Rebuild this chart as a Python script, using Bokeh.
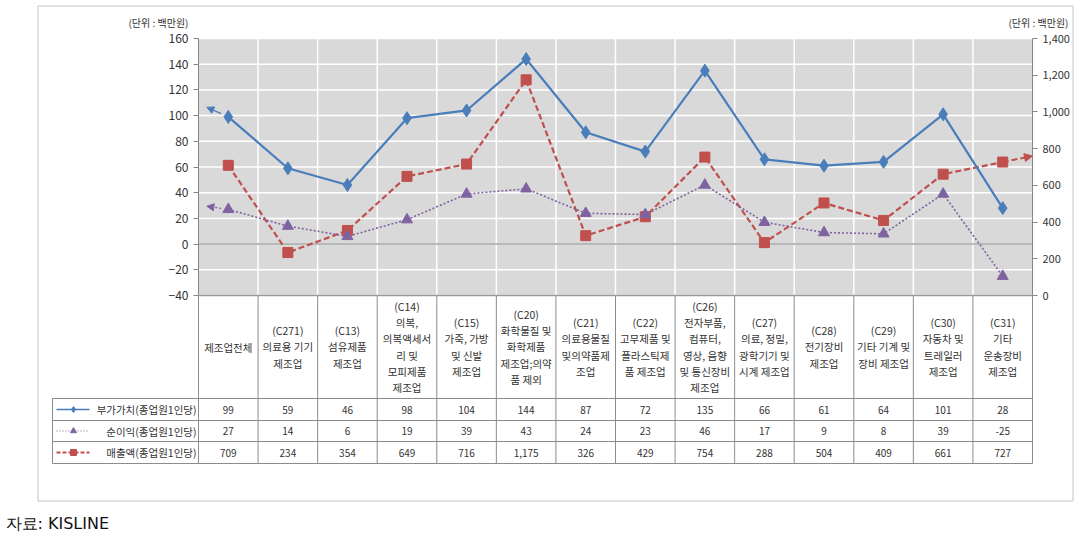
from bokeh.plotting import figure
from bokeh.models import (Range1d, LinearAxis, FixedTicker, Arrow, NormalHead,
                          NumeralTickFormatter)
from bokeh.embed import file_html
from bokeh.resources import INLINE
from bokeh.core.properties import value

# ---------------- data ----------------
categories = [
    "제조업전체",
    "(C271)\n의료용 기기\n제조업",
    "(C13)\n섬유제품\n제조업",
    "(C14)\n의복,\n의복액세서\n리 및\n모피제품\n제조업",
    "(C15)\n가죽, 가방\n및 신발\n제조업",
    "(C20)\n화학물질 및\n화학제품\n제조업;의약\n품 제외",
    "(C21)\n의료용물질\n및의약품제\n조업",
    "(C22)\n고무제품 및\n플라스틱제\n품 제조업",
    "(C26)\n전자부품,\n컴퓨터,\n영상, 음향\n및 통신장비\n제조업",
    "(C27)\n의료, 정밀,\n광학기기 및\n시계 제조업",
    "(C28)\n전기장비\n제조업",
    "(C29)\n기타 기계 및\n장비 제조업",
    "(C30)\n자동차 및\n트레일러\n제조업",
    "(C31)\n기타\n운송장비\n제조업",
]
value_added = [99, 59, 46, 98, 104, 144, 87, 72, 135, 66, 61, 64, 101, 28]
net_income = [27, 14, 6, 19, 39, 43, 24, 23, 46, 17, 9, 8, 39, -25]
sales = [709, 234, 354, 649, 716, 1175, 326, 429, 754, 288, 504, 409, 661, 727]
series_names = ["부가가치(종업원1인당)", "순이익(종업원1인당)", "매출액(종업원1인당)"]
left_ticks = [-40, -20, 0, 20, 40, 60, 80, 100, 120, 140, 160]
right_ticks = [0, 200, 400, 600, 800, 1000, 1200, 1400]
unit_label = "(단위 : 백만원)"
source_label = "자료:  KISLINE"
# values the drawn lines run on to, beyond the first / last category (arrow ends)
value_added_lead = 106.5
net_income_lead = 29.5
sales_trail = 760

# ---------------- layout constants (page pixels) ----------------
W, H = 1081, 545
FL, FR, FT, FB = 198, 1032, 38, 295          # plot area
n = len(categories)
unit = (FR - FL) / n                         # px per category
LMIN, LMAX = left_ticks[0], left_ticks[-1]
RMIN, RMAX = right_ticks[0], right_ticks[-1]
k = (FB - FT) / (LMAX - LMIN)                # px per left-axis unit
kr = (FB - FT) / (RMAX - RMIN)               # px per right-axis unit

FONT = "Noto Sans CJK KR"
BLUE = "#4a7ebb"
PURPLE = "#7f63a1"
RED = "#c0504d"
TXT = "#333333"
TABLE_LINE = "#8c8c8c"
BORDER = "#c4c4c4"
AXIS = "#868686"


def px(xpix):
    return (xpix - FL) / unit


def py(ypix):
    return LMAX - (ypix - FT) / k


xs = [i + 0.5 for i in range(n)]

p = figure(width=W, height=H, output_backend="svg", toolbar_location=None,
           x_range=Range1d(px(0), px(W)), y_range=Range1d(py(H), py(0)),
           x_axis_location=None, y_axis_location=None, min_border=0)
p.outline_line_color = None
p.background_fill_color = "white"
p.border_fill_color = "white"
p.xgrid.grid_line_color = None
p.ygrid.grid_line_color = None
p.extra_y_ranges = {"sales": Range1d(RMIN - (H - FB) / kr, RMAX + FT / kr)}

# chart-area border
p.quad(left=[px(37.5)], right=[px(1072.5)], top=[py(5.5)], bottom=[py(500.5)],
       fill_alpha=0, line_color=BORDER, line_width=1)

# plot area background and grid
p.quad(left=[0], right=[n], bottom=[LMIN], top=[LMAX], fill_color="#d9d9d9", line_alpha=0)
p.segment(x0=[0] * len(left_ticks), y0=left_ticks, x1=[n] * len(left_ticks), y1=left_ticks,
          line_color="white", line_width=1.5)
vx = list(range(1, n))
p.segment(x0=vx, y0=[LMIN] * len(vx), x1=vx, y1=[LMAX] * len(vx),
          line_color="white", line_width=1.5)
p.segment(x0=[0], y0=[0], x1=[n], y1=[0], line_color="#a3a3a3", line_width=1.5)

# axes
ya = LinearAxis(fixed_location=0, bounds=(LMIN, LMAX), ticker=FixedTicker(ticks=left_ticks))
ra = LinearAxis(y_range_name="sales", fixed_location=n, bounds=(RMIN, RMAX),
                ticker=FixedTicker(ticks=right_ticks),
                formatter=NumeralTickFormatter(format="0,0"))
for ax, fs in ((ya, "12px"), (ra, "11px")):
    ax.axis_line_color = AXIS
    ax.major_tick_line_color = AXIS
    ax.major_tick_out = 5
    ax.major_tick_in = 0
    ax.minor_tick_line_color = None
    ax.major_label_text_font = FONT
    ax.major_label_text_font_size = fs
    ax.major_label_text_color = TXT
    ax.major_label_standoff = 5
p.add_layout(ya, "left")
p.add_layout(ra, "right")

# ---------------- series ----------------
p.line(xs, sales, y_range_name="sales", line_color=RED, line_width=2.2, line_dash="6 3")
p.scatter(xs, sales, y_range_name="sales", marker="square", size=10, color=RED)
p.add_layout(Arrow(x_start=xs[-1], y_start=sales[-1], x_end=n, y_end=sales_trail,
                   y_range_name="sales", line_color=RED, line_width=2, line_dash="6 3",
                   end=NormalHead(size=8, fill_color=RED, line_color=RED)))

lead_x = xs[0] - 0.36
st_x = xs[0] - 0.12
p.line(xs, net_income, line_color=PURPLE, line_width=1.6, line_dash="2 2")
p.scatter(xs, net_income, marker="triangle", size=11, color=PURPLE)
p.add_layout(Arrow(x_start=st_x,
                   y_start=net_income[0] + (net_income_lead - net_income[0]) / 3,
                   x_end=lead_x, y_end=net_income_lead, line_color=PURPLE, line_width=1.3,
                   line_dash="2 2", end=NormalHead(size=7, fill_color=PURPLE, line_color=PURPLE)))

p.line(xs, value_added, line_color=BLUE, line_width=2.2)
p.scatter(xs, value_added, marker="diamond", size=13, color=BLUE)
p.add_layout(Arrow(x_start=st_x,
                   y_start=value_added[0] + (value_added_lead - value_added[0]) / 3,
                   x_end=lead_x, y_end=value_added_lead, line_color=BLUE, line_width=1.3,
                   end=NormalHead(size=7, fill_color=BLUE, line_color=BLUE)))

# unit labels
p.text(x=[px(188), px(1068)], y=[py(22)] * 2, text=[unit_label] * 2, text_align="right",
       text_baseline="middle", text_font=value(FONT), text_font_size="10px", text_color=TXT)

# ---------------- data table ----------------
head_bot = 398
row_lines = [py(398), py(420), py(441), py(463)]
row_mid = [py(409), py(430.5), py(452)]
leg_left = px(52)

cols = list(range(n + 1))
p.segment(x0=cols, y0=[LMIN] * len(cols), x1=cols, y1=[row_lines[-1]] * len(cols),
          line_color=TABLE_LINE, line_width=1)
p.segment(x0=[leg_left] * 4, y0=row_lines, x1=[n] * 4, y1=row_lines,
          line_color=TABLE_LINE, line_width=1)
p.segment(x0=[leg_left], y0=[row_lines[0]], x1=[leg_left], y1=[row_lines[-1]],
          line_color=TABLE_LINE, line_width=1)
p.segment(x0=[0], y0=[LMIN], x1=[n], y1=[LMIN], line_color="#9a9a9a", line_width=1.5)

p.text(x=xs, y=[py((FB + head_bot) / 2)] * n, text=categories, text_align="center",
       text_baseline="middle", text_font=value(FONT), text_font_size="10.5px",
       text_color=TXT, text_line_height=1.07)

for series, ym in zip([value_added, net_income, sales], row_mid):
    p.text(x=xs, y=[ym] * n, text=[f"{v:,}" for v in series], text_align="center",
           text_baseline="middle", text_font=value(FONT), text_font_size="10px",
           text_color=TXT)

styles = [(BLUE, "solid", "diamond", 1.5), (PURPLE, "1 2", "triangle", 1.2),
          (RED, "4 2", "square", 2)]
for (c, dash, mk, lw), ym in zip(styles, row_mid):
    p.line([px(56), px(89)], [ym, ym], line_color=c, line_dash=dash, line_width=lw)
    p.scatter([px(73)], [ym], marker=mk, size=6, color=c)
p.text(x=[px(196)] * 3, y=row_mid, text=series_names, text_align="right",
       text_baseline="middle", text_font=value(FONT), text_font_size="10.5px", text_color=TXT)

p.text(x=[px(5)], y=[py(523)], text=[source_label], text_align="left", text_baseline="middle",
       text_font=value("DejaVu Sans"), text_font_size="16px", text_color="#111111")

open("out.html", "w").write(file_html(p, INLINE))
